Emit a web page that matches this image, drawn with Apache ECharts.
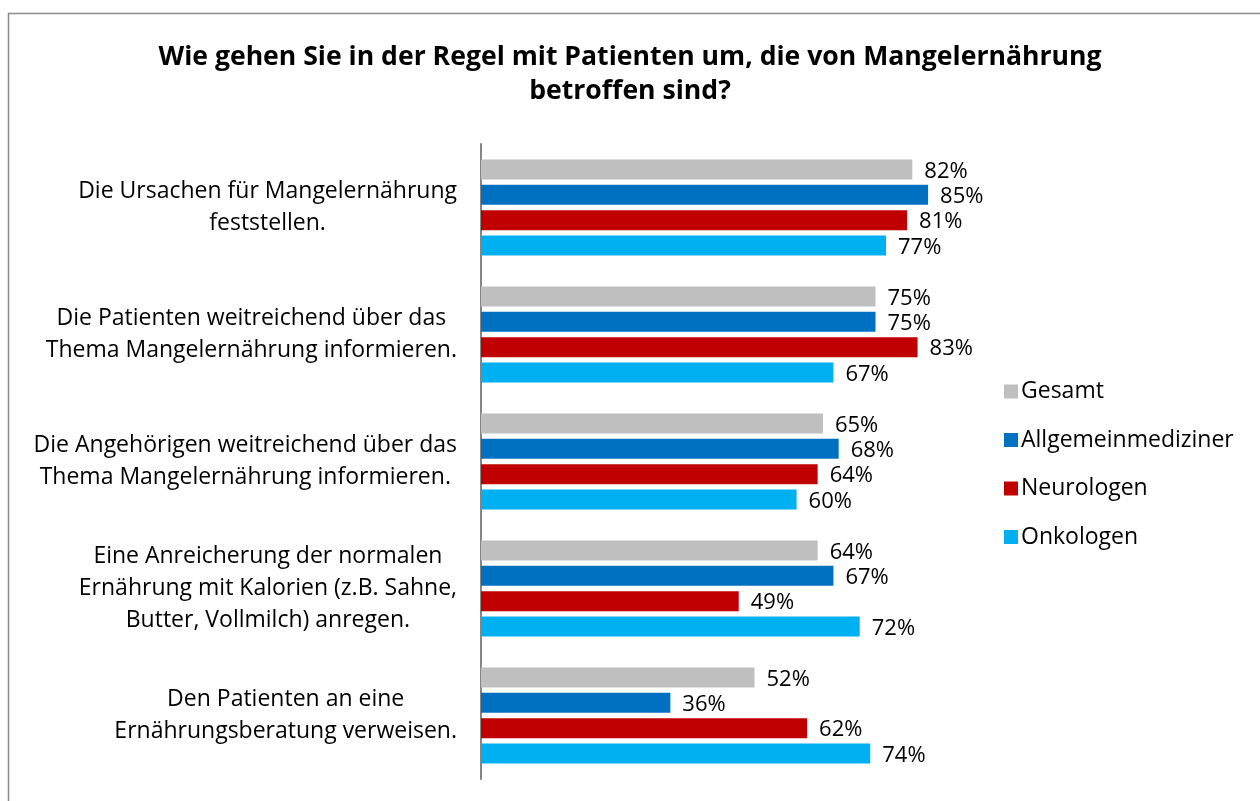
<!DOCTYPE html>
<html>
<head>
<meta charset="utf-8">
<script src="https://cdn.jsdelivr.net/npm/echarts@6/dist/echarts.min.js"></script>
<style>
  html, body { margin: 0; padding: 0; background: #fff; }
  #chart { width: 1260px; height: 801px; }
</style>
</head>
<body>
<div id="chart"></div>
<script>
// question text, one entry per category (lines split with \n)
var categories = [
  'Die Ursachen für Mangelernährung\nfeststellen.',
  'Die Patienten weitreichend über das\nThema Mangelernährung informieren.',
  'Die Angehörigen weitreichend über das\nThema Mangelernährung informieren.',
  'Eine Anreicherung der normalen\nErnährung mit Kalorien (z.B. Sahne,\nButter, Vollmilch) anregen.',
  'Den Patienten an eine\nErnährungsberatung verweisen.'
];

var seriesNames = ['Gesamt', 'Allgemeinmediziner', 'Neurologen', 'Onkologen'];
var colors = ['#bfbfbf', '#0070c0', '#c00000', '#00b0f0'];

var gesamt = [82, 75, 65, 64, 52];
var allgemein = [85, 75, 68, 67, 36];
var neuro = [81, 83, 64, 49, 62];
var onko = [77, 67, 60, 72, 74];

var values = [gesamt, allgemein, neuro, onko];

var FONT = 'Open Sans';

var chart = echarts.init(document.getElementById('chart'));

var series = seriesNames.map(function (name, i) {
  return {
    name: name,
    type: 'bar',
    data: values[i],
    barWidth: 20,
    barGap: '27%',
    itemStyle: { color: colors[i] },
    label: {
      show: true,
      position: 'right',
      distance: 12,
      offset: [0, 2],
      formatter: '{c}%',
      color: '#000',
      fontFamily: FONT,
      fontSize: 22
    }
  };
});

var option = {
  backgroundColor: '#ffffff',
  animation: false,
  title: {
    text: 'Wie gehen Sie in der Regel mit Patienten um, die von Mangelernährung\nbetroffen sind?',
    left: 'center',
    top: 35,
    textStyle: {
      fontFamily: FONT,
      fontWeight: 'bold',
      fontSize: 26.6,
      lineHeight: 34,
      color: '#000'
    }
  },
  legend: {
    orient: 'vertical',
    left: 999,
    top: 375,
    itemWidth: 14,
    itemHeight: 14,
    itemGap: 25.5,
    icon: 'rect',
    textStyle: { fontFamily: FONT, fontSize: 23, color: '#000', padding: [0, 0, 0, -2] },
    data: seriesNames
  },
  grid: {
    left: 481,
    top: 144,
    width: 526,
    height: 635,
    containLabel: false
  },
  xAxis: {
    type: 'value',
    min: 0,
    max: 100,
    show: false
  },
  yAxis: {
    type: 'category',
    inverse: true,
    data: categories,
    axisLine: { show: true, lineStyle: { color: '#868686', width: 2 } },
    axisTick: { show: false },
    axisLabel: {
      margin: 24,
      align: 'right',
      formatter: function (v) {
        return v.split('\n').map(function (l) { return '{c|' + l + '}'; }).join('\n');
      },
      rich: {
        c: {
          align: 'center',
          fontFamily: FONT,
          fontSize: 23,
          lineHeight: 32,
          color: '#000'
        }
      }
    }
  },
  graphic: [{
    type: 'rect',
    shape: { x: 8.5, y: 13.5, width: 1400, height: 1000 },
    style: { fill: 'none', stroke: '#8c8c8c', lineWidth: 1.5 },
    silent: true
  }],
  series: series
};

chart.setOption(option);
</script>
</body>
</html>
